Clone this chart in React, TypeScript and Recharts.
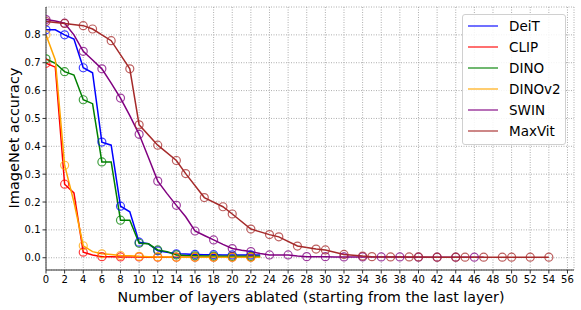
import React from "react";
import { LineChart, Line, XAxis, YAxis, CartesianGrid, Legend } from "recharts";

const vitX = [0, 1, 2, 3, 4, 5, 6, 7, 8, 9, 10, 11, 12, 13, 14, 15, 16, 17, 18, 19, 20, 21, 22, 23];
const deitY = [0.818, 0.818, 0.8, 0.785, 0.682, 0.664, 0.415, 0.404, 0.185, 0.165, 0.056, 0.05, 0.025, 0.02, 0.014, 0.013, 0.012, 0.011, 0.011, 0.01, 0.01, 0.01, 0.01, 0.01];
const clipY = [0.698, 0.684, 0.264, 0.233, 0.02, 0.01, 0.004, 0.004, 0.003, 0.003, 0.003, 0.002, 0.002, 0.002, 0.002, 0.002, 0.002, 0.002, 0.002, 0.002, 0.002, 0.002, 0.002, 0.002];
const dinoY = [0.714, 0.698, 0.668, 0.656, 0.567, 0.553, 0.344, 0.344, 0.135, 0.135, 0.052, 0.05, 0.028, 0.022, 0.01, 0.008, 0.007, 0.006, 0.006, 0.005, 0.005, 0.005, 0.005, 0.005];
const dinov2Y = [0.8, 0.71, 0.332, 0.2, 0.043, 0.022, 0.014, 0.012, 0.008, 0.007, 0.005, 0.004, 0.003, 0.003, 0.002, 0.002, 0.002, 0.002, 0.002, 0.002, 0.002, 0.002, 0.002, 0.002];

const swinX = [0, 1, 2, 3, 4, 5, 6, 7, 8, 9, 10, 11, 12, 13, 14, 15, 16, 17, 18, 19, 20, 21, 22, 23, 24, 25, 26, 27, 28, 29, 30, 31, 32, 33, 34, 35, 36, 37, 38, 39, 40, 41, 42, 43, 44, 45, 46, 47];
const swinY = [0.855, 0.85, 0.842, 0.8, 0.741, 0.71, 0.678, 0.627, 0.573, 0.51, 0.443, 0.36, 0.275, 0.23, 0.188, 0.147, 0.096, 0.08, 0.064, 0.048, 0.033, 0.027, 0.022, 0.015, 0.01, 0.01, 0.01, 0.006, 0.004, 0.004, 0.004, 0.003, 0.003, 0.003, 0.003, 0.003, 0.003, 0.003, 0.003, 0.002, 0.002, 0.002, 0.002, 0.002, 0.002, 0.002, 0.002, 0.002];

const maxvitX = [0, 2, 4, 5, 7, 9, 10, 12, 14, 15, 17, 19, 20, 22, 24, 25, 27, 29, 30, 32, 34, 35, 37, 39, 40, 42, 44, 45, 47, 49, 50, 52, 54];
const maxvitY = [0.848, 0.841, 0.833, 0.821, 0.779, 0.678, 0.477, 0.404, 0.349, 0.302, 0.216, 0.183, 0.157, 0.103, 0.083, 0.075, 0.042, 0.031, 0.028, 0.012, 0.006, 0.004, 0.003, 0.003, 0.003, 0.002, 0.002, 0.002, 0.002, 0.002, 0.002, 0.002, 0.002];

const xTicks = [0, 2, 4, 6, 8, 10, 12, 14, 16, 18, 20, 22, 24, 26, 28, 30, 32, 34, 36, 38, 40, 42, 44, 46, 48, 50, 52, 54, 56];
const yTicks = [0, 0.1, 0.2, 0.3, 0.4, 0.5, 0.6, 0.7, 0.8];

const FONT = "DejaVu Sans";

type Pt = { x: number; y: number; m: boolean };
const build = (xs: number[], ys: number[], everyMark: boolean): Pt[] =>
  xs.map((x, i) => ({ x, y: ys[i], m: everyMark ? true : x % 2 === 0 && x <= (xs[xs.length - 1] === 23 ? 22 : 46) }));

const series = [
  { name: "DeiT", color: "#0000ff", data: build(vitX, deitY, false) },
  { name: "CLIP", color: "#ff0000", data: build(vitX, clipY, false) },
  { name: "DINO", color: "#008000", data: build(vitX, dinoY, false) },
  { name: "DINOv2", color: "#ffa500", data: build(vitX, dinov2Y, false) },
  { name: "SWIN", color: "#800080", data: build(swinX, swinY, false) },
  { name: "MaxVit", color: "#a52a2a", data: build(maxvitX, maxvitY, true) },
];

const makeDot = (color: string) => (props: any) => {
  const { cx, cy, payload, index } = props;
  if (!payload || !payload.m || cx == null || cy == null) return <g key={`d-${index}`} />;
  return (
    <circle key={`d-${index}`} cx={cx} cy={cy} r={4} fill="none" stroke={color} strokeOpacity={0.75} strokeWidth={1.2} />
  );
};

const renderLegend = () => (
  <div
    style={{
      border: "1px solid #d0d0d0",
      borderRadius: 3,
      background: "rgba(255,255,255,0.85)",
      width: 104,
      height: 131,
      boxSizing: "border-box",
      paddingTop: 1,
    }}
  >
    {series.map((s) => (
      <div key={s.name} style={{ display: "flex", alignItems: "center", height: 20.9 }}>
        <svg width={40} height={10} style={{ marginLeft: 4 }}>
          <line x1={1} y1={5} x2={31} y2={5} stroke={s.color} strokeOpacity={0.75} strokeWidth={1.5} />
        </svg>
        <span style={{ fontFamily: FONT, fontSize: 13.5, color: "#000", marginLeft: 2 }}>{s.name}</span>
      </div>
    ))}
  </div>
);

export default function App() {
  return (
    <div style={{ position: "absolute", left: 0, top: 0, width: 581, height: 310, background: "#fff" }}>
      <LineChart width={581} height={310} margin={{ top: 7, right: 7, bottom: 0, left: 0 }}>
        <CartesianGrid stroke="#999" strokeDasharray="1 1.5" strokeWidth={0.8} />
        <XAxis
          type="number"
          dataKey="x"
          domain={[0, 56.7]}
          ticks={xTicks}
          interval={0}
          allowDataOverflow
          height={40}
          tickSize={3.5}
          tickMargin={2}
          stroke="#333"
          tick={{ fontSize: 10, fill: "#000", fontFamily: FONT }}
          label={(p: any) => (
            <text x={311} y={302} textAnchor="middle" fontSize={14.2} fontFamily={FONT} fill="#000">
              Number of layers ablated (starting from the last layer)
            </text>
          )}
        />
        <XAxis xAxisId="top" orientation="top" type="number" domain={[0, 56.7]} height={0} tick={false} tickLine={false} stroke="#333" />
        <YAxis
          type="number"
          domain={[-0.044, 0.9]}
          ticks={yTicks}
          interval={0}
          allowDataOverflow
          width={46}
          tickSize={3.5}
          tickMargin={2}
          stroke="#333"
          tickFormatter={(v: number) => v.toFixed(1)}
          tick={{ fontSize: 10, fill: "#000", fontFamily: FONT }}
          label={(p: any) => (
            <text x={19} y={138} transform="rotate(-90 19 138)" textAnchor="middle" fontSize={14.5} fontFamily={FONT} fill="#000">
              ImageNet accuracy
            </text>
          )}
        />
        <YAxis yAxisId="right" orientation="right" type="number" domain={[-0.044, 0.9]} width={0} tick={false} tickLine={false} stroke="#333" />
        {series.map((s) => (
          <Line
            key={s.name}
            data={s.data}
            dataKey="y"
            name={s.name}
            type="linear"
            stroke={s.color}
            strokeWidth={1.5}
            dot={makeDot(s.color)}
            activeDot={false}
            isAnimationActive={false}
          />
        ))}
        <Legend
          layout="horizontal"
          verticalAlign="middle"
          align="center"
          content={renderLegend}
          wrapperStyle={{ position: "absolute", left: 462, top: 14, width: 104 }}
        />
      </LineChart>
    </div>
  );
}
